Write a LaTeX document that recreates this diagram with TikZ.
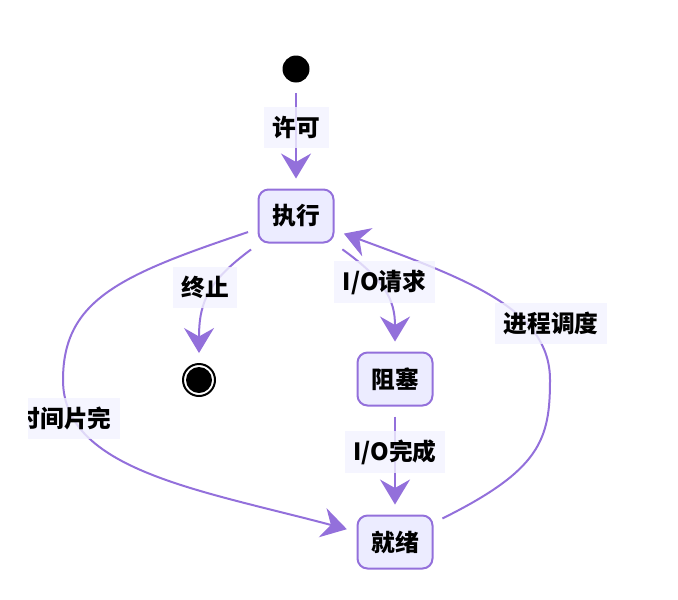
\documentclass[tikz,border=0pt]{standalone}
\usepackage{fontspec}
\setmainfont{Noto Sans CJK SC}
\usetikzlibrary{arrows.meta}

\definecolor{edgepurple}{HTML}{9370DB}
\definecolor{statefill}{HTML}{ECECFF}
\definecolor{labelfill}{HTML}{F2F2FF}

\begin{document}
\begin{tikzpicture}[
    x=0.02cm, y=-0.02cm,
    >={Stealth[length=0.5cm, width=0.6cm, inset=0.17cm]},
    state/.style={rectangle, rounded corners=0.2cm, draw=edgepurple, line width=0.04cm, fill=statefill, minimum width=1.5cm, minimum height=1.06cm, font=\bfseries\fontsize{13.5}{15}\selectfont},
    initial/.style={circle, fill=black, inner sep=0pt, minimum size=0.54cm},
    final/.style={circle, draw=black, fill=white, line width=0.04cm, inner sep=0pt, minimum size=0.64cm,
        path picture={\fill[black] (path picture bounding box.center) circle (0.26cm);}},
    edgelabel/.style={fill=labelfill, fill opacity=0.8, text opacity=1, inner sep=0.17cm, minimum height=0.82cm, font=\bfseries\fontsize{13.5}{15}\selectfont},
    transition/.style={->, draw=edgepurple, line width=0.04cm, shorten <=0.2cm, shorten >=0.2cm}
]
\useasboundingbox (0,0) rectangle (678,599);

% States
\node[initial] (start) at (296,69) {};
\node[state] (exec) at (296,216) {执行};
\node[final] (stop) at (199,380) {};
\node[state] (blocked) at (395,379) {阻塞};
\node[state] (ready) at (395,542) {就绪};

% Transitions
\draw[transition] (start) -- (exec);
\draw[transition] (exec) .. controls (210,280) and (199,300) .. (stop);
\draw[transition] (exec) .. controls (385,280) and (395,300) .. (blocked);
\draw[transition] (blocked) -- (ready);
\draw[transition] (exec) .. controls (120,275) and (63,300) .. (63,380)
    .. controls (63,470) and (200,490) .. (ready);
\draw[transition] (ready) .. controls (540,470) and (550,440) .. (550,380)
    .. controls (550,310) and (470,280) .. (exec);

% Edge labels
\node[edgelabel] (lbl_permit) at (296.5,127.5) {许可};
\node[edgelabel] (lbl_end) at (205,287) {终止};
\node[edgelabel] (lbl_ioreq) at (384.5,282) {I/O请求};
\node[edgelabel] (lbl_iodone) at (395,452) {I/O完成};
\node[edgelabel] (lbl_sched) at (551,323) {进程调度};
\begin{scope}
\clip (28,0) rectangle (678,599);
\node[edgelabel] (lbl_slice) at (64,418) {时间片完};
\end{scope}

\end{tikzpicture}
\end{document}
